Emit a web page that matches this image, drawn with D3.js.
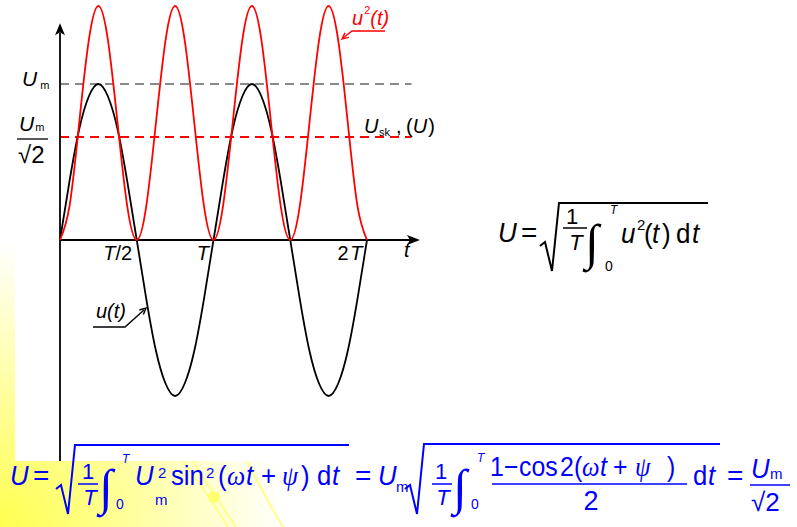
<!DOCTYPE html>
<html><head><meta charset="utf-8">
<script src="https://cdn.jsdelivr.net/npm/d3@7"></script>
<style>body{margin:0;background:#fff}svg{display:block}</style>
</head><body>
<svg id="c" width="797" height="527"></svg>
<script>
// ---- data (time in units of T, voltage in units of Um) ----
const tickValues = [0.5, 1, 2];
const tickLabels = ["T/2", "T", "2T"];
const tSamples = [0,0.0625,0.125,0.1875,0.25,0.3125,0.375,0.4375,0.5,0.5625,0.625,0.6875,0.75,0.8125,0.875,0.9375,1,
  1.0625,1.125,1.1875,1.25,1.3125,1.375,1.4375,1.5,1.5625,1.625,1.6875,1.75,1.8125,1.875,1.9375,2];
const uValues = [0,0.38,0.71,0.92,1,0.92,0.71,0.38,0,-0.38,-0.71,-0.92,-1,-0.92,-0.71,-0.38,0,
  0.38,0.71,0.92,1,0.92,0.71,0.38,0,-0.38,-0.71,-0.92,-1,-0.92,-0.71,-0.38,0];
const u2Values = [0,0.22,0.75,1.28,1.5,1.28,0.75,0.22,0,0.22,0.75,1.28,1.5,1.28,0.75,0.22,0,
  0.22,0.75,1.28,1.5,1.28,0.75,0.22,0,0.22,0.75,1.28,1.5,1.28,0.75,0.22,0];
const levelUm = 1;
const levelRms = 0.66;

const SANS = "'Liberation Sans', Arial, sans-serif";
const SERIF = "'Liberation Serif', 'Times New Roman', serif";
const BLUE = "#0000ff";

const svg = d3.select("#c");
const defs = svg.append("defs");

// ---- background ----
const rg = defs.append("radialGradient").attr("id","yel").attr("gradientUnits","userSpaceOnUse")
  .attr("cx",0).attr("cy",527).attr("r",285);
rg.append("stop").attr("offset",0).attr("stop-color","#ffff50");
rg.append("stop").attr("offset",0.45).attr("stop-color","#ffff9a");
rg.append("stop").attr("offset",1).attr("stop-color","#ffffff");
svg.append("rect").attr("width",797).attr("height",527).attr("fill","url(#yel)");
const deco = svg.append("g").attr("fill","none").attr("stroke","#ffff8a").attr("stroke-width",2);
deco.append("path").attr("d","M183,461 Q205,490 228,527");
deco.append("path").attr("d","M193,461 Q212,492 236,527");
deco.append("path").attr("d","M247,461 Q262,492 283,527");
svg.append("circle").attr("cx",214).attr("cy",497).attr("r",6).attr("fill","#ffff70");
svg.append("rect").attr("x",15).attr("y",0).attr("width",782).attr("height",461).attr("fill","#fff");

// ---- scales ----
const x = d3.scaleLinear().domain([0, 2]).range([60, 367]);
const y = d3.scaleLinear().domain([-1, 1]).range([396, 84]);

// ---- reference levels ----
svg.append("line").attr("x1",x(0)).attr("x2",x(2.29)).attr("y1",y(levelUm)).attr("y2",y(levelUm))
  .attr("stroke","#8a8a8a").attr("stroke-width",2).attr("stroke-dasharray","9,6");
svg.append("line").attr("x1",x(0)).attr("x2",x(2.29)).attr("y1",y(levelRms)).attr("y2",y(levelRms))
  .attr("stroke","#ff0000").attr("stroke-width",2).attr("stroke-dasharray","9,6");

// ---- axes ----
const axG = svg.append("g").attr("stroke","#000").attr("stroke-width",1.8);
axG.append("line").attr("x1",x(0)).attr("x2",x(2.3)).attr("y1",y(0)).attr("y2",y(0));
axG.append("line").attr("x1",x(0)).attr("x2",x(0)).attr("y1",y(-1.417)).attr("y2",y(1.33));
svg.append("path").attr("d",`M${x(2.345)},${y(0)} l-13,-5 l3,5 l-3,5 z`).attr("fill","#000");
svg.append("path").attr("d",`M${x(0)},${y(1.39)} l-5,12 l5,-3 l5,3 z`).attr("fill","#000");

const xAxis = svg.append("g").attr("transform",`translate(0,${y(0)})`)
  .call(d3.axisBottom(x).tickValues(tickValues).tickFormat((d,i)=>tickLabels[i]).tickSize(0));
xAxis.select(".domain").remove();
xAxis.selectAll("text").each(function(d,i){
  const el = d3.select(this);
  const lab = tickLabels[i];
  el.text(null).attr("y",20).attr("dy",0).attr("x",-5).attr("text-anchor","end")
    .attr("font-size",20).attr("font-family",SANS).attr("fill","#000");
  lab.split(/(T)/).filter(s=>s.length).forEach(s=>{
    el.append("tspan").attr("font-style", s==="T" ? "italic" : "normal").text(s==="2"?"2\u200A":s);
  });
});
svg.append("text").attr("x",404).attr("y",257).attr("font-size",20).attr("font-style","italic")
  .attr("font-family",SANS).text("t");

// ---- curves ----
const line = d3.line().x((d,i)=>x(tSamples[i])).y(d=>y(d)).curve(d3.curveNatural);
svg.append("path").datum(uValues).attr("d",line).attr("fill","none").attr("stroke","#000").attr("stroke-width",1.8);
svg.append("path").datum(u2Values).attr("d",line).attr("fill","none").attr("stroke","#ff0000").attr("stroke-width",1.8);

// ---- text helpers ----
function seq(parent, x0, base, size, color, segs){
  let cx = x0;
  segs.forEach(s=>{
    const fs = s.s || size;
    const px = s.x != null ? s.x : cx + (s.dx || 0);
    const py = s.y != null ? s.y : base + (s.dy || 0);
    const sx = s.sx || 1;
    const t = parent.append("text").attr("font-size",fs)
      .attr("fill",color).attr("font-family",s.f || SANS).attr("font-style",s.i ? "italic" : "normal")
      .text(s.t);
    if (sx !== 1) t.attr("x",0).attr("y",0).attr("transform",`translate(${px},${py}) scale(${sx},1)`);
    else t.attr("x",px).attr("y",py);
    if (s.ta) t.attr("text-anchor", s.ta);
    cx = px + t.node().getComputedTextLength()*sx;
  });
}
function arrowHead(g, tx, ty, fx, fy, color){
  const a = Math.atan2(ty-fy, tx-fx), L = 7, h = 0.45;
  g.append("path").attr("d",`M${tx-L*Math.cos(a-h)},${ty-L*Math.sin(a-h)} L${tx},${ty} L${tx-L*Math.cos(a+h)},${ty-L*Math.sin(a+h)}`)
    .attr("fill","none").attr("stroke",color).attr("stroke-width",1.4);
}
function frac(parent, x1, x2, yy, color, w){
  parent.append("line").attr("x1",x1).attr("x2",x2).attr("y1",yy).attr("y2",yy).attr("stroke",color).attr("stroke-width",w||1.5);
}
function radical(parent, xs, yTop, yBot, xEnd, color){
  parent.append("path").attr("d",`M${xs},${yBot-25} L${xs+5},${yBot-29} L${xs+12},${yBot} L${xs+19},${yTop} L${xEnd},${yTop}`)
    .attr("fill","none").attr("stroke",color).attr("stroke-width",2).attr("stroke-linejoin","miter");
}

// ---- left labels ----
seq(svg, 22, 86, 21, "#000", [{t:"U", i:true}, {t:"m", s:11, dx:3, dy:3}]);
seq(svg, 19, 131, 21, "#000", [{t:"U", i:true}, {t:"m", s:11, dx:1, dy:0}]);
frac(svg, 17, 48, 139, "#000", 1.3);
seq(svg, 18, 163, 24, "#000", [{t:"\u221A2"}]);

// ---- u^2(t) label ----
const red = svg.append("g");
seq(red, 352, 25, 20, "#ff0000", [{t:"u", i:true}, {t:"2", s:11, dx:1, dy:-11}, {t:"(t)", i:true, dx:0, dy:0}]);
red.append("path").attr("d","M385,31 L352,31 L343,38").attr("fill","none").attr("stroke","#ff0000").attr("stroke-width",1.4);
arrowHead(red, 342, 39, 352, 31, "#ff0000");

// ---- U_sk label ----
seq(svg, 364, 133, 20, "#000", [{t:"U", i:true}, {t:"sk", s:11, x:379, dy:3}, {t:",", x:396}, {t:"(", x:406}, {t:"U", i:true}, {t:")", dx:1}]);

// ---- u(t) label ----
const blk = svg.append("g");
seq(blk, 96, 318, 20, "#000", [{t:"u(t)", i:true}]);
blk.append("path").attr("d","M93,327 L125,327 L144,310").attr("fill","none").attr("stroke","#000").attr("stroke-width",1.4);
arrowHead(blk, 146, 308, 125, 327, "#000");

// ---- right formula ----
const F1 = svg.append("g");
const k1 = 0.93;
seq(F1, 0, 242, 28, "#000", [{t:"U", i:true, x:498, sx:k1}, {t:"=", x:521}]);
radical(F1, 540, 203, 271, 708, "#000");
seq(F1, 0, 224, 22, "#000", [{t:"1", x:572, ta:"middle"}]);
frac(F1, 563, 587, 228, "#000", 1.5);
seq(F1, 0, 250, 22, "#000", [{t:"T", i:true, x:576, ta:"middle"}]);
seq(F1, 0, 259, 50, "#000", [{t:"\u222B", f:SERIF, x:585}]);
seq(F1, 0, 214, 12, "#000", [{t:"T", i:true, x:610}]);
seq(F1, 0, 271, 14, "#000", [{t:"0", x:605}]);
seq(F1, 0, 243, 28, "#000", [{t:"u", i:true, x:621, sx:k1}, {t:"2", s:15, x:637, y:230}, {t:"(", x:644, sx:k1},
  {t:"t", i:true, x:652, sx:k1}, {t:")", x:662, sx:k1}, {t:"d", x:676, sx:k1}, {t:"t", i:true, x:692, sx:k1}]);

// ---- bottom formula ----
const F2 = svg.append("g");
const k2 = 0.92;
seq(F2, 0, 485, 28, BLUE, [{t:"U", i:true, x:10, sx:k2}, {t:"=", x:33}]);
radical(F2, 56, 445, 514, 349, BLUE);
seq(F2, 0, 479, 22, BLUE, [{t:"1", x:88, ta:"middle"}]);
frac(F2, 78, 98, 484, BLUE, 1.5);
seq(F2, 0, 505, 22, BLUE, [{t:"T", i:true, x:90, ta:"middle"}]);
seq(F2, 0, 504, 50, BLUE, [{t:"\u222B", f:SERIF, x:99}]);
seq(F2, 0, 463, 12, BLUE, [{t:"T", i:true, x:122}]);
seq(F2, 0, 509, 14, BLUE, [{t:"0", x:116}]);
seq(F2, 0, 485, 28, BLUE, [{t:"U", i:true, x:135, sx:k2}, {t:"2", s:15, x:158, y:478}, {t:"m", s:15, x:155, y:505},
  {t:"sin", x:171, sx:k2}, {t:"2", s:15, x:206, y:478},
  {t:"(", x:218, sx:k2}, {t:"\u03C9", f:SERIF, i:true, x:227, sx:k2}, {t:"t", i:true, x:246, sx:k2},
  {t:"+", x:261, sx:k2}, {t:"\u03C8", f:SERIF, i:true, x:282, sx:k2}, {t:")", x:301, sx:k2},
  {t:"d", x:317, sx:k2}, {t:"t", i:true, x:332, sx:k2}, {t:"=", x:355},
  {t:"U", i:true, x:378, sx:k2}, {t:"m", s:15, x:396, y:492}]);
radical(F2, 405, 444, 514, 720, BLUE);
seq(F2, 0, 479, 22, BLUE, [{t:"1", x:441, ta:"middle"}]);
frac(F2, 432, 452, 484, BLUE, 1.5);
seq(F2, 0, 505, 22, BLUE, [{t:"T", i:true, x:443, ta:"middle"}]);
seq(F2, 0, 504, 50, BLUE, [{t:"\u222B", f:SERIF, x:453}]);
seq(F2, 0, 462, 12, BLUE, [{t:"T", i:true, x:477}]);
seq(F2, 0, 509, 14, BLUE, [{t:"0", x:471}]);
seq(F2, 0, 476, 27, BLUE, [{t:"1", x:490, sx:k2}, {t:"\u2212", x:504, sx:k2}, {t:"cos", x:519, sx:k2}, {t:"2", x:560, sx:k2},
  {t:"(", x:574, sx:k2}, {t:"\u03C9", f:SERIF, i:true, x:582, sx:k2}, {t:"t", i:true, x:600, sx:k2},
  {t:"+", x:613, sx:k2}, {t:"\u03C8", f:SERIF, i:true, x:635, sx:k2}, {t:")", x:667, sx:k2}]);
frac(F2, 492, 687, 484, BLUE, 1.5);
seq(F2, 0, 510, 27, BLUE, [{t:"2", x:591, ta:"middle"}]);
seq(F2, 0, 485, 28, BLUE, [{t:"d", x:693, sx:k2}, {t:"t", i:true, x:708, sx:k2}, {t:"=", x:727}]);
seq(F2, 0, 478, 28, BLUE, [{t:"U", i:true, x:751, sx:k2}, {t:"m", s:15, x:770, y:479}]);
frac(F2, 750, 790, 485, BLUE, 1.5);
seq(F2, 0, 511, 26, BLUE, [{t:"\u221A2", x:751}]);
</script>
</body></html>
